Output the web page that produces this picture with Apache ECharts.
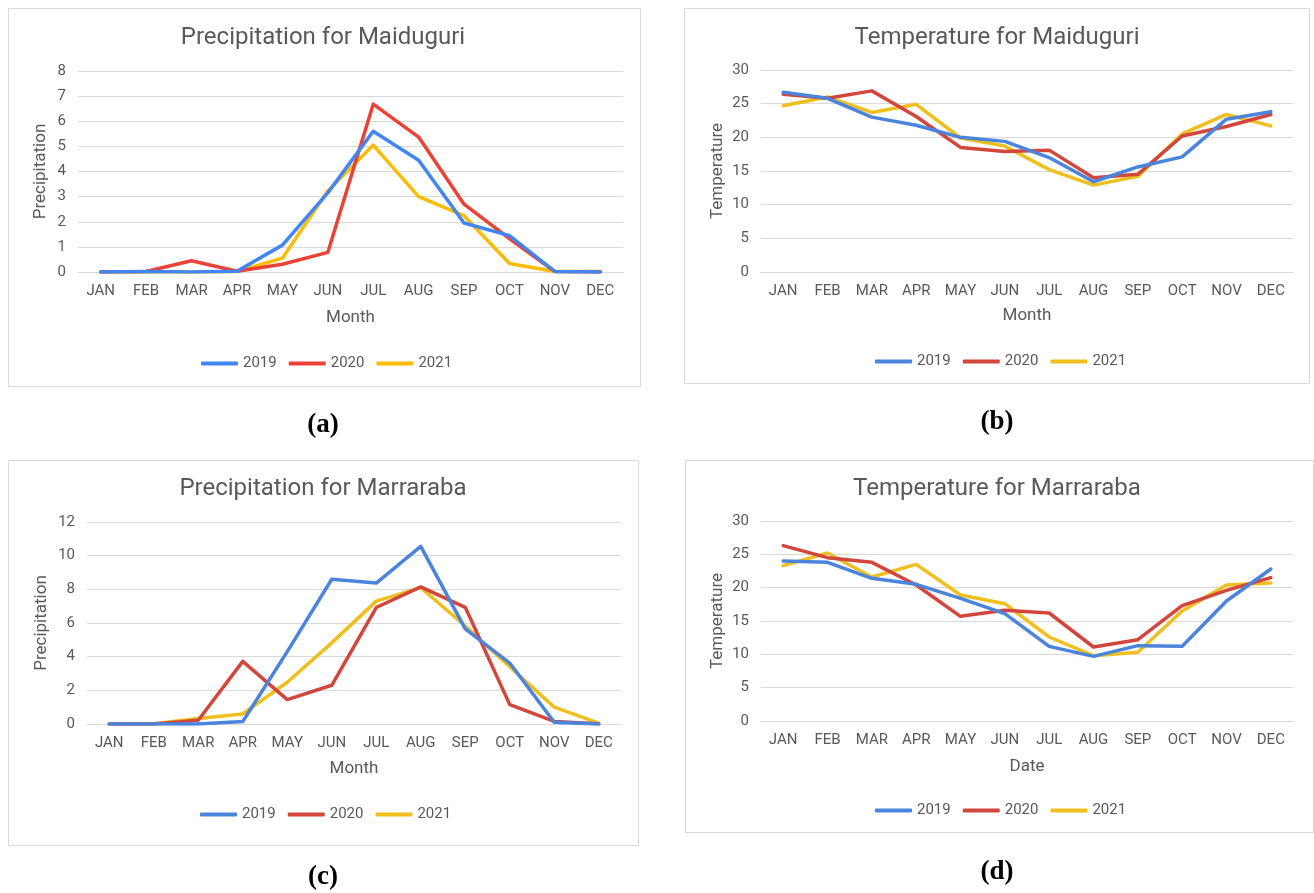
<!DOCTYPE html>
<html>
<head>
<meta charset="utf-8">
<title>Precipitation and Temperature for Maiduguri and Marraraba</title>
<script src="https://cdn.jsdelivr.net/npm/echarts@6/dist/echarts.min.js"></script>
<style>
  html, body { margin: 0; padding: 0; background: #ffffff; }
  #chart { width: 1314px; height: 893px; }
</style>
</head>
<body>
<div id="chart"></div>
<script>
// Month categories shared by all four panels
const months = ['JAN', 'FEB', 'MAR', 'APR', 'MAY', 'JUN', 'JUL', 'AUG', 'SEP', 'OCT', 'NOV', 'DEC'];
const years = ['2019', '2020', '2021'];

// Monthly precipitation, Maiduguri
const precipMaiduguri2019 = [0, 0.02, 0, 0.03, 1.07, 3.15, 5.6, 4.45, 1.95, 1.45, 0.02, 0];
const precipMaiduguri2020 = [0, 0.02, 0.45, 0.03, 0.31, 0.78, 6.68, 5.37, 2.7, 1.33, 0.02, 0];
const precipMaiduguri2021 = [0, 0, 0, 0.02, 0.55, 3.22, 5.05, 3.0, 2.24, 0.34, 0.02, 0.02];

// Monthly temperature, Maiduguri
const tempMaiduguri2019 = [26.7, 25.8, 23.0, 21.8, 20.0, 19.4, 17.0, 13.4, 15.6, 17.1, 22.7, 23.8];
const tempMaiduguri2020 = [26.4, 25.8, 26.9, 23.1, 18.5, 17.9, 18.1, 14.0, 14.5, 20.2, 21.6, 23.4];
const tempMaiduguri2021 = [24.7, 26.0, 23.7, 24.9, 19.9, 18.7, 15.2, 12.9, 14.2, 20.5, 23.4, 21.7];

// Monthly precipitation, Marraraba
const precipMarraraba2019 = [0, 0, 0, 0.15, 4.3, 8.6, 8.37, 10.55, 5.65, 3.62, 0.1, 0];
const precipMarraraba2020 = [0, 0, 0.22, 3.72, 1.45, 2.3, 6.92, 8.15, 6.93, 1.15, 0.15, 0.02];
const precipMarraraba2021 = [0, 0.02, 0.33, 0.6, 2.48, 4.82, 7.3, 8.1, 5.82, 3.4, 1.0, 0.05];

// Monthly temperature, Marraraba
const tempMarraraba2019 = [24.0, 23.8, 21.4, 20.5, 18.4, 16.1, 11.2, 9.7, 11.3, 11.2, 18.0, 22.8];
const tempMarraraba2020 = [26.3, 24.5, 23.8, 20.4, 15.7, 16.6, 16.2, 11.1, 12.2, 17.3, 19.6, 21.5];
const tempMarraraba2021 = [23.3, 25.2, 21.6, 23.5, 18.9, 17.6, 12.6, 9.8, 10.3, 16.5, 20.4, 20.7];

// Y-axis tick settings
const precipMaiduguriTicks = { min: 0, max: 8, interval: 1 };
const precipMarrarabaTicks = { min: 0, max: 12, interval: 2 };
const tempTicks = { min: 0, max: 30, interval: 5 };

const FONT = 'Roboto, "Liberation Sans", Arial, sans-serif';
const TEXT_COLOR = '#595959';
const GRID_COLOR = '#d9d9d9';

const brightColors = ['#4285f4', '#ea4335', '#fbbc04'];
const mutedColors = ['#4a84dc', '#d2463c', '#efbf1e'];

// One entry per panel: frame, plot area, texts and series
const panels = [
  {
    frame: { x: 8, y: 8, w: 632, h: 378 },
    grid: { left: 78, top: 71, width: 545, height: 201 },
    title: 'Precipitation for Maiduguri', titleX: 323, titleY: 38,
    yName: 'Precipitation', yGap: 29, xName: 'Month', xGap: 37,
    ticks: precipMaiduguriTicks,
    values: [precipMaiduguri2019, precipMaiduguri2020, precipMaiduguri2021],
    colors: brightColors,
    legendX: 201, legendY: 356,
    caption: '(a)', captionX: 323, captionY: 425
  },
  {
    frame: { x: 684, y: 8, w: 625, h: 375 },
    grid: { left: 761, top: 70, width: 532, height: 202 },
    title: 'Temperature for Maiduguri', titleX: 997, titleY: 38,
    yName: 'Temperature', yGap: 35, xName: 'Month', xGap: 35,
    ticks: tempTicks,
    values: [tempMaiduguri2019, tempMaiduguri2020, tempMaiduguri2021],
    colors: mutedColors,
    legendX: 875, legendY: 354,
    caption: '(b)', captionX: 997, captionY: 422
  },
  {
    frame: { x: 8, y: 460, w: 630, h: 385 },
    grid: { left: 87, top: 522, width: 534, height: 202 },
    title: 'Precipitation for Marraraba', titleX: 323, titleY: 489,
    yName: 'Precipitation', yGap: 37, xName: 'Month', xGap: 36,
    ticks: precipMarrarabaTicks,
    values: [precipMarraraba2019, precipMarraraba2020, precipMarraraba2021],
    colors: mutedColors,
    legendX: 200, legendY: 807,
    caption: '(c)', captionX: 323, captionY: 877
  },
  {
    frame: { x: 685, y: 460, w: 628, h: 372 },
    grid: { left: 761, top: 521, width: 532, height: 200 },
    title: 'Temperature for Marraraba', titleX: 997, titleY: 489,
    yName: 'Temperature', yGap: 35, xName: 'Date', xGap: 37,
    ticks: tempTicks,
    values: [tempMarraraba2019, tempMarraraba2020, tempMarraraba2021],
    colors: mutedColors,
    legendX: 875, legendY: 803,
    caption: '(d)', captionX: 997, captionY: 872
  }
];

const grids = [], xAxes = [], yAxes = [], series = [], legends = [], graphics = [];

panels.forEach((p, i) => {
  graphics.push({
    type: 'rect', silent: true, z: -10,
    shape: { x: p.frame.x + 0.5, y: p.frame.y + 0.5, width: p.frame.w, height: p.frame.h },
    style: { fill: '#ffffff', stroke: GRID_COLOR, lineWidth: 1 }
  });
  graphics.push({
    type: 'text', silent: true,
    x: p.titleX, y: p.titleY,
    style: {
      text: p.title, fill: TEXT_COLOR, font: '24px ' + FONT,
      textAlign: 'center', textVerticalAlign: 'middle'
    }
  });
  graphics.push({
    type: 'text', silent: true,
    x: p.captionX, y: p.captionY,
    style: {
      text: p.caption, fill: '#000000',
      font: 'bold 27px "Liberation Serif", "Times New Roman", serif',
      textAlign: 'center', textVerticalAlign: 'middle'
    }
  });

  grids.push(Object.assign({ containLabel: false }, p.grid));

  xAxes.push({
    type: 'category', gridIndex: i, data: months, boundaryGap: true,
    name: p.xName, nameLocation: 'middle', nameGap: p.xGap,
    nameTextStyle: { color: TEXT_COLOR, fontFamily: FONT, fontSize: 17 },
    axisLine: { lineStyle: { color: GRID_COLOR, width: 1 } },
    axisTick: { show: false },
    axisLabel: { color: TEXT_COLOR, fontFamily: FONT, fontSize: 15, margin: 12, interval: 0 },
    splitLine: { show: false }
  });

  yAxes.push({
    type: 'value', gridIndex: i,
    min: p.ticks.min, max: p.ticks.max, interval: p.ticks.interval,
    name: p.yName, nameLocation: 'middle', nameGap: p.yGap, nameRotate: 90,
    nameTextStyle: { color: TEXT_COLOR, fontFamily: FONT, fontSize: 17 },
    axisLine: { show: false },
    axisTick: { show: false },
    axisLabel: { color: TEXT_COLOR, fontFamily: FONT, fontSize: 15, margin: 12 },
    splitLine: { lineStyle: { color: GRID_COLOR, width: 1 } }
  });

  years.forEach((year, k) => {
    series.push({
      type: 'line', name: year,
      xAxisIndex: i, yAxisIndex: i,
      data: p.values[k],
      symbol: 'none', smooth: false,
      lineStyle: { color: p.colors[k], width: 3.5, join: 'round', cap: 'round' },
      itemStyle: { color: p.colors[k] },
      z: 3 - k
    });
  });

  legends.push({
    left: p.legendX, top: p.legendY, orient: 'horizontal', padding: 0,
    icon: 'roundRect', itemWidth: 37, itemHeight: 4, itemGap: 12,
    selectedMode: false,
    textStyle: { color: TEXT_COLOR, fontFamily: FONT, fontSize: 15 },
    data: years.map((year, k) => ({ name: year, itemStyle: { color: p.colors[k] } }))
  });
});

const chart = echarts.init(document.getElementById('chart'), null, { renderer: 'canvas' });
chart.setOption({
  animation: false,
  backgroundColor: '#ffffff',
  grid: grids,
  xAxis: xAxes,
  yAxis: yAxes,
  legend: legends,
  series: series,
  graphic: graphics
});
</script>
</body>
</html>
